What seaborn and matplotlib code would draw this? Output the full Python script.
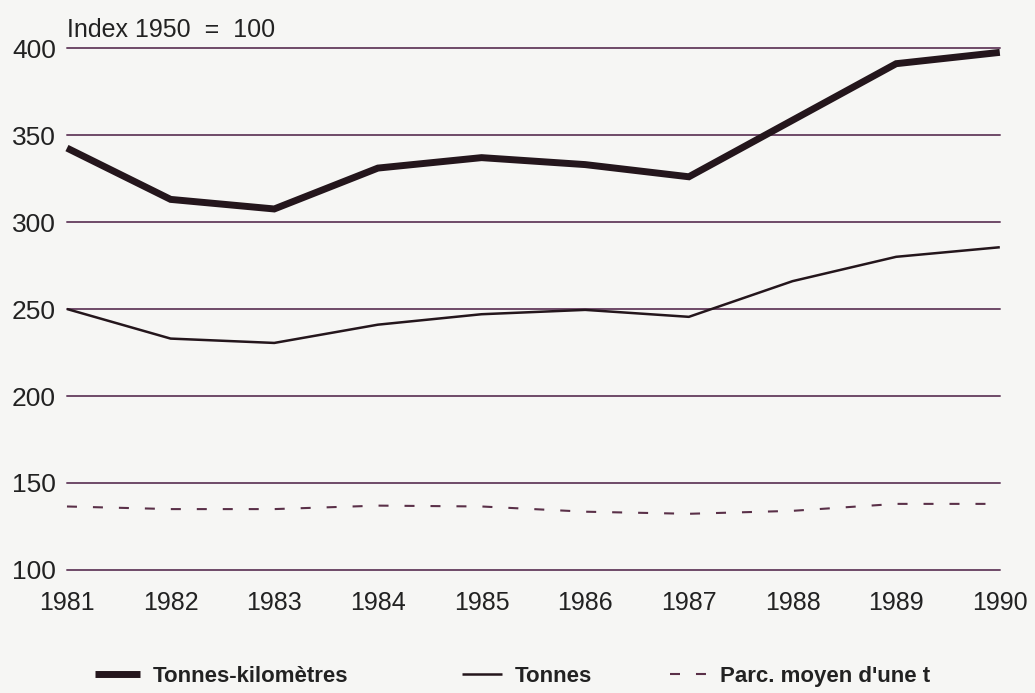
import pandas as pd
import matplotlib.pyplot as plt
import seaborn as sns

years = [1981, 1982, 1983, 1984, 1985, 1986, 1987, 1988, 1989, 1990]
tonnes_km = [342.5, 313, 307.5, 331, 337, 333, 326, 358.5, 391, 397.5]
tonnes = [250, 233, 230.5, 241, 247, 249.5, 245.5, 266, 280, 285.5]
parcours = [136.5, 135, 135, 137, 136.5, 133.5, 132.3, 134, 138, 138]
labels = ['Tonnes-kilomètres', 'Tonnes', "Parc. moyen d'une t"]

df = pd.DataFrame({'year': years, 'tkm': tonnes_km, 't': tonnes, 'p': parcours})

sns.set_style('white')
plt.rcParams['font.family'] = ['Liberation Sans', 'DejaVu Sans']

bg = '#f6f6f4'
ink = '#24161c'
grid = '#6e4a68'

fig = plt.figure(figsize=(10.35, 6.93), dpi=100, facecolor=bg)
ax = fig.add_axes([0.0647, 0.1775, 0.9013, 0.7532], facecolor=bg)

for y in range(100, 401, 50):
    ax.axhline(y, color=grid, lw=1.4, zorder=1, clip_on=False)

sns.lineplot(data=df, x='year', y='tkm', ax=ax, color=ink, lw=5, label=labels[0],
             solid_joinstyle='miter', solid_capstyle='butt', clip_on=False, zorder=3)
sns.lineplot(data=df, x='year', y='t', ax=ax, color=ink, lw=1.8, label=labels[1],
             solid_capstyle='butt', clip_on=False, zorder=3)
lw_d = 1.5
sns.lineplot(data=df, x='year', y='p', ax=ax, color='#5a3048', lw=lw_d, label=labels[2],
             linestyle=(0, (7.2 / lw_d, 11.5 / lw_d)), clip_on=False, zorder=3)

ax.set_xlim(1981, 1990)
ax.set_ylim(100, 400)
ax.set_xticks(years)
ax.set_yticks(range(100, 401, 50))
ax.set_xlabel('')
ax.set_ylabel('')
sns.despine(ax=ax, left=True, bottom=True)
ax.tick_params(axis='x', length=0, pad=15, labelsize=18, labelcolor='#222222')
ax.tick_params(axis='y', length=0, pad=8, labelsize=19, labelcolor='#222222')

ax.text(0, 1.035, 'Index 1950  =  100', transform=ax.transAxes, fontsize=18,
        color='#222222', va='center', ha='left')

handles = ax.get_lines()[-3:]
ax.get_legend().remove()
xs = [0.092, 0.446, 0.647]
hl = [2.0, 1.8, 1.65]
for h, lab, x, l in zip(handles, labels, xs, hl):
    leg = fig.legend([h], [lab], loc='center left', bbox_to_anchor=(x, 0.024),
                     frameon=False, borderpad=0, borderaxespad=0, handlelength=l,
                     handletextpad=0.6, prop={'size': 16, 'weight': 'bold'})
    for t in leg.get_texts():
        t.set_color('#222222')

fig.savefig('out.png', dpi=100, facecolor=bg)
